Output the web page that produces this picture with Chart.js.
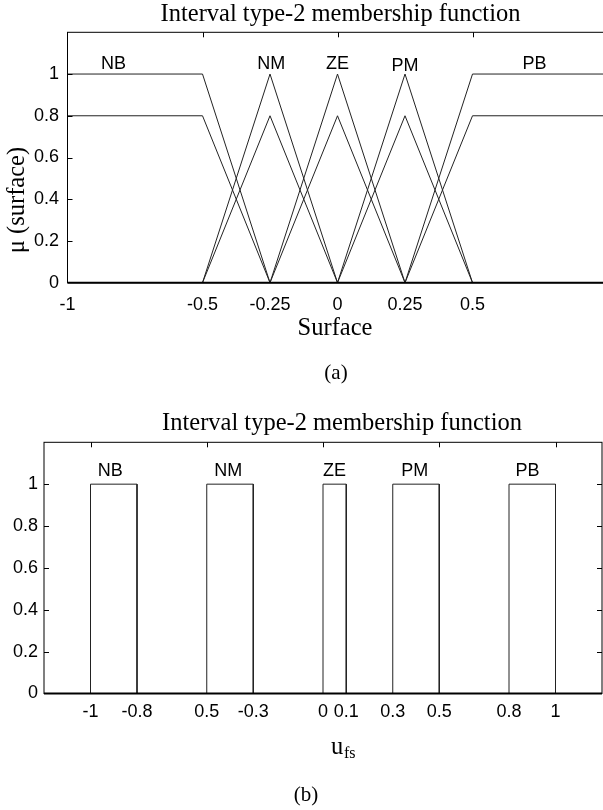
<!DOCTYPE html>
<html>
<head>
<meta charset="utf-8">
<script src="https://cdn.jsdelivr.net/npm/chart.js@4.4.1/dist/chart.umd.min.js"></script>
<style>
  html, body { margin: 0; padding: 0; background: #fff; width: 603px; height: 810px; overflow: hidden; }
  #wrapA { position: absolute; left: 0; top: 0; width: 603px; height: 400px; overflow: hidden; }
  #wrapB { position: absolute; left: 0; top: 400px; width: 603px; height: 410px; overflow: hidden; }
</style>
</head>
<body>
<div id="wrapA"><canvas id="chartA" width="615" height="400"></canvas></div>
<div id="wrapB"><canvas id="chartB" width="603" height="410"></canvas></div>
<script>
// --- DATA: (a) interval type-2 MFs of the surface ---
const mfNames = ['NB', 'NM', 'ZE', 'PM', 'PB'];
const surfX = [
  [-1, -0.5, -0.25, 1],
  [-1, -0.5, -0.25, 0, 1],
  [-1, -0.25, 0, 0.25, 1],
  [-1, 0, 0.25, 0.5, 1],
  [-1, 0.25, 0.5, 1]
];
const upperMu = [
  [1, 1, 0, 0],
  [0, 0, 1, 0, 0],
  [0, 0, 1, 0, 0],
  [0, 0, 1, 0, 0],
  [0, 0, 1, 1]
];
const lowerMu = [
  [0.8, 0.8, 0, 0],
  [0, 0, 0.8, 0, 0],
  [0, 0, 0.8, 0, 0],
  [0, 0, 0.8, 0, 0],
  [0, 0, 0.8, 0.8]
];
const surfLabelX = [-0.83, -0.245, 0, 0.25, 0.73];
const surfLabelY = [1.05, 1.05, 1.05, 1.037, 1.05];
const surfTicks = [-1, -0.5, -0.25, 0, 0.25, 0.5];
const surfTickLabels = ['-1', '-0.5', '-0.25', '0', '0.25', '0.5'];

// --- DATA: (b) output sets u_fs ---
const fsLeft = [-1, -0.5, 0, 0.3, 0.8];
const fsRight = [-0.8, -0.3, 0.1, 0.5, 1];
const fsHeight = [1, 1, 1, 1, 1];
const fsLabelX = [-0.915, -0.408, 0.049, 0.395, 0.88];
const fsLabelY = [1.063, 1.063, 1.063, 1.063, 1.063];
const fsTicks = [-1, -0.8, -0.5, -0.3, 0, 0.1, 0.3, 0.5, 0.8, 1];
const fsTickLabels = ['-1', '-0.8', '0.5', '-0.3', '0', '0.1', '0.3', '0.5', '0.8', '1'];

const muTicks = [0, 0.2, 0.4, 0.6, 0.8, 1];
const muTickLabels = ['0', '0.2', '0.4', '0.6', '0.8', '1'];
const topMarksA = [-0.5, 0, 0.5];
const topMarksB = [-1, -0.5, 0, 0.5, 1];

const LINE = '#222';
const SANS = '"Liberation Sans", Arial, sans-serif';
const SERIF = '"Liberation Serif", "Times New Roman", serif';

// --- helpers ---
function xyPoints(xs, ys) {
  return xs.map((x, i) => ({ x: x, y: ys[i] }));
}

function lineSet(points) {
  return {
    data: points,
    showLine: true,
    borderColor: LINE,
    borderWidth: 1,
    pointRadius: 0,
    tension: 0,
    fill: false
  };
}

function drawFrame(chart, topMarks, rightMarks) {
  const { ctx, chartArea: a, scales: { x, y } } = chart;
  ctx.save();
  ctx.strokeStyle = '#000';
  ctx.lineWidth = 1;
  ctx.strokeRect(a.left, a.top, a.right - a.left, a.bottom - a.top);
  ctx.lineWidth = 2;
  ctx.beginPath();
  ctx.moveTo(a.left, a.bottom);
  ctx.lineTo(a.right, a.bottom);
  ctx.stroke();
  // inward tick marks
  ctx.lineWidth = 1;
  ctx.beginPath();
  muTicks.slice(1).forEach(v => {
    const py = Math.round(y.getPixelForValue(v)) + 0.5;
    ctx.moveTo(a.left, py);
    ctx.lineTo(a.left + 5, py);
    if (rightMarks) {
      ctx.moveTo(a.right, py);
      ctx.lineTo(a.right - 5, py);
    }
  });
  topMarks.forEach(v => {
    const px = Math.round(x.getPixelForValue(v)) + 0.5;
    ctx.moveTo(px, a.top);
    ctx.lineTo(px, a.top + 5);
  });
  ctx.stroke();
  ctx.restore();
}

function drawNames(chart, xs, ys) {
  const { ctx, scales: { x, y } } = chart;
  ctx.save();
  ctx.fillStyle = '#000';
  ctx.font = '18px ' + SANS;
  ctx.textAlign = 'center';
  ctx.textBaseline = 'middle';
  mfNames.forEach((n, i) => ctx.fillText(n, x.getPixelForValue(xs[i]), y.getPixelForValue(ys[i])));
  ctx.restore();
}

function baseOptions(ticksX, labelsX, xMin, xMax, yWidth, xHeight, pad, xPad, yPad) {
  return {
    responsive: false,
    animation: false,
    events: [],
    layout: { padding: pad },
    plugins: { legend: { display: false }, title: { display: false }, tooltip: { enabled: false } },
    scales: {
      x: {
        type: 'linear', min: xMin, max: xMax,
        grid: { display: false, drawTicks: false },
        border: { display: false },
        afterBuildTicks: s => { s.ticks = ticksX.map(v => ({ value: v })); },
        afterFit: s => { s.height = xHeight; },
        ticks: {
          autoSkip: false, maxRotation: 0, padding: xPad, color: '#000',
          font: { family: SANS, size: 18 },
          callback: (v, i) => labelsX[i]
        }
      },
      y: {
        type: 'linear', min: 0, max: 1.2,
        grid: { display: false, drawTicks: false },
        border: { display: false },
        afterBuildTicks: s => { s.ticks = muTicks.map(v => ({ value: v })); },
        afterFit: s => { s.width = yWidth; },
        ticks: {
          padding: yPad, color: '#000',
          font: { family: SANS, size: 18 },
          callback: (v, i) => muTickLabels[i]
        }
      }
    }
  };
}

// --- CHART (a) ---
const surfSets = [];
mfNames.forEach((n, i) => {
  surfSets.push(lineSet(xyPoints(surfX[i], upperMu[i])));
  surfSets.push(lineSet(xyPoints(surfX[i], lowerMu[i])));
});

const plotA = {
  id: 'plotA',
  afterDraw(chart) {
    const { ctx, chartArea: a } = chart;
    drawFrame(chart, topMarksA, false);
    drawNames(chart, surfLabelX, surfLabelY);
    const cx = (a.left + a.right) / 2;
    ctx.save();
    ctx.fillStyle = '#000';
    ctx.textAlign = 'center';
    ctx.textBaseline = 'middle';
    ctx.font = '24.5px ' + SERIF;
    ctx.fillText('Interval type-2 membership function', cx + 3, 14.5);
    ctx.fillText('Surface', cx - 2.5, 329);
    ctx.font = '21px ' + SERIF;
    ctx.fillText('(a)', 336, 373);
    ctx.translate(18, 200);
    ctx.rotate(-Math.PI / 2);
    ctx.font = '24.5px ' + SERIF;
    ctx.fillText('\u03bc (surface)', 0, 0);
    ctx.restore();
  }
};

new Chart(document.getElementById('chartA'), {
  type: 'scatter',
  data: { datasets: surfSets },
  options: baseOptions(surfTicks, surfTickLabels, -1, 1, 67.5, 400 - 282.7,
    { left: 0, right: 7.5, top: 32.3, bottom: 0 }, 12, 8.5),
  plugins: [plotA]
});

// --- CHART (b) ---
const fsSets = fsLeft.map((l, i) => lineSet(xyPoints(
  [-1.2, l, l, fsRight[i], fsRight[i], 1.2],
  [0, 0, fsHeight[i], fsHeight[i], 0, 0]
)));

const plotB = {
  id: 'plotB',
  afterDraw(chart) {
    const { ctx, chartArea: a } = chart;
    drawFrame(chart, topMarksB, true);
    drawNames(chart, fsLabelX, fsLabelY);
    const cx = (a.left + a.right) / 2;
    ctx.save();
    ctx.fillStyle = '#000';
    ctx.textBaseline = 'middle';
    ctx.textAlign = 'center';
    ctx.font = '24.5px ' + SERIF;
    ctx.fillText('Interval type-2 membership function', cx + 19, 24);
    ctx.font = '21px ' + SERIF;
    ctx.fillText('(b)', 306, 395);
    ctx.textAlign = 'left';
    ctx.textBaseline = 'alphabetic';
    ctx.font = '24.5px ' + SERIF;
    ctx.fillText('u', 331, 354);
    ctx.font = '16px ' + SERIF;
    ctx.fillText('fs', 344, 358);
    ctx.restore();
  }
};

new Chart(document.getElementById('chartB'), {
  type: 'scatter',
  data: { datasets: fsSets },
  options: baseOptions(fsTicks, fsTickLabels, -1.2, 1.2, 44, 410 - 293.5,
    { left: 0, right: 1, top: 42.3, bottom: 0 }, 8, 6),
  plugins: [plotB]
});
</script>
</body>
</html>
